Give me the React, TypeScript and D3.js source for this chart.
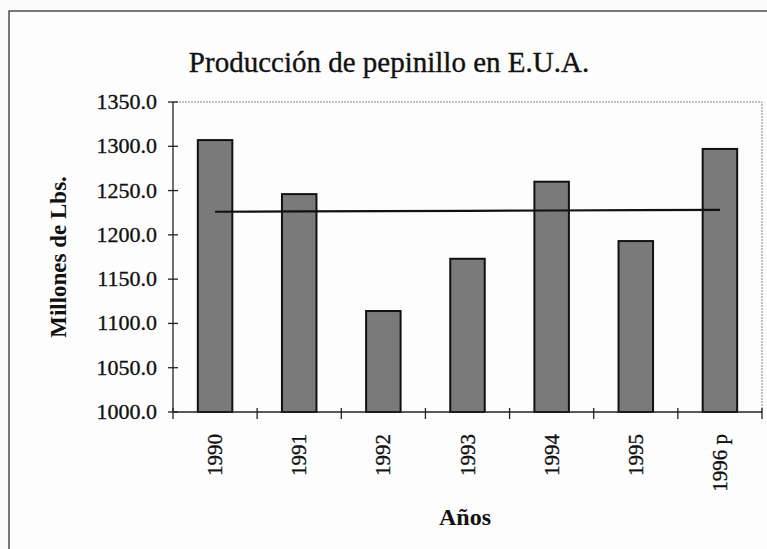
import * as d3 from "d3";

const years = ["1990", "1991", "1992", "1993", "1994", "1995", "1996 p"];
const production = [1307, 1246, 1114, 1173, 1260, 1193, 1297];
const yTicks = [1000, 1050, 1100, 1150, 1200, 1250, 1300, 1350];

export default function App() {
  const W = 767;
  const H = 549;
  const left = 173;
  const right = 762;
  const top = 102;
  const bottom = 412;
  const font = "'Liberation Serif', 'Times New Roman', serif";

  const x = d3.scaleBand().domain(years).range([left, right]).paddingInner(0).paddingOuter(0);
  const y = d3.scaleLinear().domain([1000, 1350]).range([bottom, top]);
  const barW = x.bandwidth() * 0.41;

  // linear trend line
  const idx = production.map((_, i) => i);
  const mx = d3.mean(idx)!;
  const my = d3.mean(production)!;
  const slope =
    d3.sum(idx, (i) => (i - mx) * (production[i] - my)) /
    d3.sum(idx, (i) => (i - mx) * (i - mx));
  const trend = (i: number) => my + slope * (i - mx);
  const cx = (d: string) => x(d)! + x.bandwidth() / 2;
  const line = d3
    .line<number>()
    .x((i) => cx(years[i]))
    .y((i) => y(trend(i)));

  const ink = { fill: "#111", stroke: "#111", strokeWidth: 0.35 };

  return (
    <svg
      width={W}
      height={H}
      style={{ position: "absolute", left: 0, top: 0, background: "#fbfbfb" }}
      fontFamily={font}
    >
      {/* chart frame */}
      <rect x={9} y={11} width={900} height={700} fill="#fdfdfd" stroke="#222" strokeWidth={1.2} />

      <text x={389} y={72} textAnchor="middle" fontSize={29} {...ink}>
        Producción de pepinillo en E.U.A.
      </text>

      {/* plot area dotted border */}
      <path
        d={`M${left},${top}H${right}V${bottom}`}
        fill="none"
        stroke="#888"
        strokeWidth={1}
        strokeDasharray="2,1"
      />

      {production.map((v, i) => (
        <rect
          key={years[i]}
          x={cx(years[i]) - barW / 2}
          y={y(v)}
          width={barW}
          height={bottom - y(v)}
          fill="#7a7a7a"
          stroke="#111"
          strokeWidth={2}
        />
      ))}

      <path d={line(idx) || ""} fill="none" stroke="#111" strokeWidth={2.2} />

      {/* y axis */}
      <line x1={left} x2={left} y1={top} y2={bottom} stroke="#222" strokeWidth={1.3} />
      {yTicks.map((t) => (
        <g key={t}>
          <line x1={left - 5} x2={left + 5} y1={y(t)} y2={y(t)} stroke="#222" strokeWidth={1.3} />
          <text x={157} y={y(t) + 7} textAnchor="end" fontSize={22} {...ink}>
            {t.toFixed(1)}
          </text>
        </g>
      ))}

      {/* x axis */}
      <line x1={left} x2={right} y1={bottom} y2={bottom} stroke="#222" strokeWidth={1.3} />
      {[...years.map((d) => x(d)!), right].map((p, i) => (
        <line key={i} x1={p} x2={p} y1={bottom - 4} y2={bottom + 7} stroke="#222" strokeWidth={1.3} />
      ))}
      {years.map((d) => (
        <text
          key={d}
          transform={`translate(${cx(d) + 7},${434}) rotate(-90)`}
          textAnchor="end"
          fontSize={21}
          {...ink}
        >
          {d}
        </text>
      ))}

      <text
        transform={`translate(${66},${257}) rotate(-90)`}
        textAnchor="middle"
        fontSize={23}
        fontWeight="bold"
        fill="#111"
      >
        Millones de Lbs.
      </text>

      <text x={465} y={525} textAnchor="middle" fontSize={24} fontWeight="bold" fill="#111">
        Años
      </text>
    </svg>
  );
}
